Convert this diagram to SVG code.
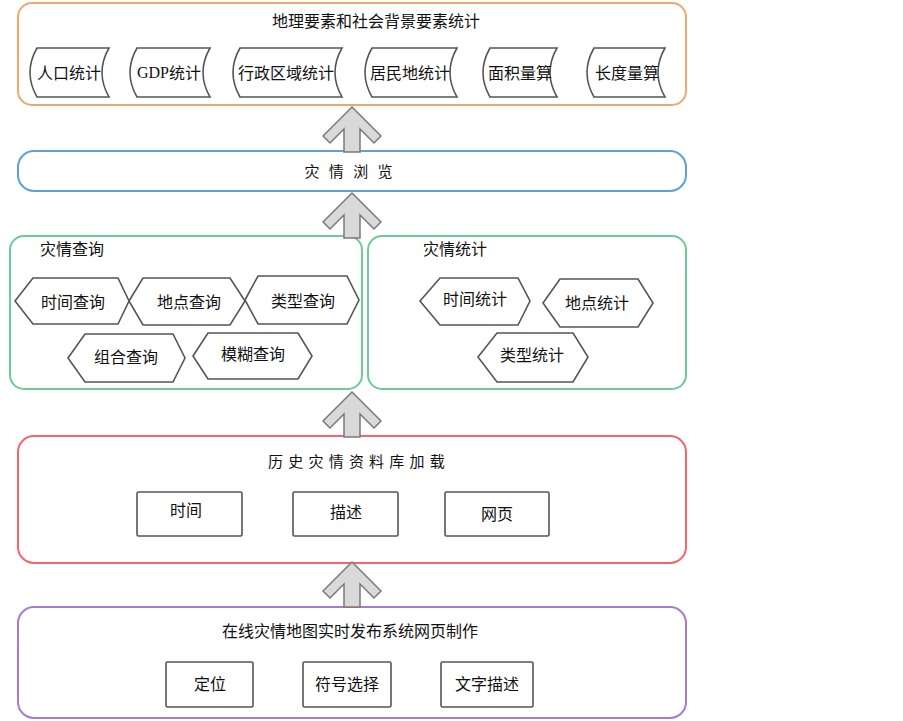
<svg xmlns="http://www.w3.org/2000/svg" width="903" height="721" viewBox="0 0 903 721">
<defs>
<style>
text{font-family:"Noto Sans CJK SC","Liberation Sans",sans-serif;font-size:16px;fill:#111;text-anchor:middle;dominant-baseline:central}
.frame{fill:#fff;stroke-width:2}
.item{fill:#fff;stroke:#555;stroke-width:1.6}
.arrow{fill:#d9d9d9;stroke:#7a7a7a;stroke-width:1.5;stroke-linejoin:miter}
</style>
<path id="arr" d="M0,0 L29,29 L22,36 L8,22 L8,45 L-8,45 L-8,22 L-22,36 L-29,29 Z"/>
</defs>
<rect width="903" height="721" fill="#fff"/>

<g id="geo-stats">
<rect class="frame" x="18" y="3" width="668" height="102" rx="14" stroke="#F2A66E"/>
<text x="376" y="20">地理要素和社会背景要素统计</text>
</g>
<g id="pop"><path class="item" d="M37,48 H109 Q95,72.5 109,97 H37 Q23,72.5 37,48 Z"/><text x="69" y="72">人口统计</text></g>
<g id="gdp"><path class="item" d="M137,48 H210 Q196,72.5 210,97 H137 Q123,72.5 137,48 Z"/><text x="169" y="72" style="font-family:'Liberation Serif','Noto Sans CJK SC',serif">GDP<tspan style="font-family:'Noto Sans CJK SC',sans-serif">统计</tspan></text></g>
<g id="admin"><path class="item" d="M240,48 H342 Q328,72.5 342,97 H240 Q226,72.5 240,48 Z"/><text x="286" y="72">行政区域统计</text></g>
<g id="resid"><path class="item" d="M372,48 H457 Q443,72.5 457,97 H372 Q358,72.5 372,48 Z"/><text x="410" y="72">居民地统计</text></g>
<g id="area"><path class="item" d="M490,48 H557 Q543,72.5 557,97 H490 Q476,72.5 490,48 Z"/><text x="520" y="72">面积量算</text></g>
<g id="length"><path class="item" d="M594,48 H665 Q651,72.5 665,97 H594 Q580,72.5 594,48 Z"/><text x="627" y="72">长度量算</text></g>

<g id="browse">
<rect class="frame" x="18" y="151" width="668" height="40" rx="16" stroke="#5FA0D6"/>
<text x="350" y="170" style="font-size:15px;letter-spacing:3px">灾 情 浏 览</text>
</g>

<g id="query">
<rect class="frame" x="10" y="236" width="352" height="153" rx="14" stroke="#6DCB95"/>
<text x="72" y="248">灾情查询</text>
</g>
<g id="q-time"><path class="item" d="M15,301 L33,278 H118 L129,301 L118,324 H33 Z"/><text x="73" y="301">时间查询</text></g>
<g id="q-place"><path class="item" d="M129,301 L143,278 H230 L245,301 L230,325 H143 Z"/><text x="189" y="301">地点查询</text></g>
<g id="q-type"><path class="item" d="M245,300 L258,276 H347 L359,300 L347,324 H258 Z"/><text x="303" y="300">类型查询</text></g>
<g id="q-combo"><path class="item" d="M68,358 L85,334 H173 L185,358 L173,382 H85 Z"/><text x="126" y="356">组合查询</text></g>
<g id="q-fuzzy"><path class="item" d="M193,356 L208,333 H298 L312,356 L298,379 H208 Z"/><text x="253" y="353">模糊查询</text></g>

<g id="stats">
<rect class="frame" x="368" y="236" width="318" height="153" rx="14" stroke="#6DCB95"/>
<text x="455" y="248">灾情统计</text>
</g>
<g id="s-time"><path class="item" d="M420,301 L440,278 H518 L530,301 L518,325 H440 Z"/><text x="475" y="298">时间统计</text></g>
<g id="s-place"><path class="item" d="M543,303 L560,279 H638 L653,303 L638,327 H560 Z"/><text x="597" y="302">地点统计</text></g>
<g id="s-type"><path class="item" d="M478,357 L497,333 H573 L588,357 L573,382 H497 Z"/><text x="532" y="354">类型统计</text></g>

<g id="history">
<rect class="frame" x="18" y="436" width="668" height="127" rx="16" stroke="#F7646C"/>
<text x="359" y="460" style="font-size:15px;letter-spacing:5.2px">历史灾情资料库加载</text>
</g>
<g id="h-time"><rect class="item" x="137" y="492" width="105" height="44" rx="1.5"/><text x="186" y="509">时间</text></g>
<g id="h-desc"><rect class="item" x="293" y="492" width="105" height="44" rx="1.5"/><text x="346" y="511">描述</text></g>
<g id="h-web"><rect class="item" x="445" y="492" width="104" height="44" rx="1.5"/><text x="497" y="513">网页</text></g>

<g id="publish">
<rect class="frame" x="18" y="607" width="668" height="111" rx="16" stroke="#A87BCB"/>
<text x="350" y="630">在线灾情地图实时发布系统网页制作</text>
</g>
<g id="p-loc"><rect class="item" x="166" y="662" width="87" height="45" rx="1.5"/><text x="210" y="683">定位</text></g>
<g id="p-sym"><rect class="item" x="303" y="662" width="88" height="45" rx="1.5"/><text x="347" y="683">符号选择</text></g>
<g id="p-text"><rect class="item" x="441" y="662" width="92" height="45" rx="1.5"/><text x="487" y="683">文字描述</text></g>

<g id="connectors">
<use href="#arr" class="arrow" transform="translate(352,107)"/>
<use href="#arr" class="arrow" transform="translate(352,193)"/>
<use href="#arr" class="arrow" transform="translate(352,392)"/>
<use href="#arr" class="arrow" transform="translate(352,562)"/>
</g>
</svg>
